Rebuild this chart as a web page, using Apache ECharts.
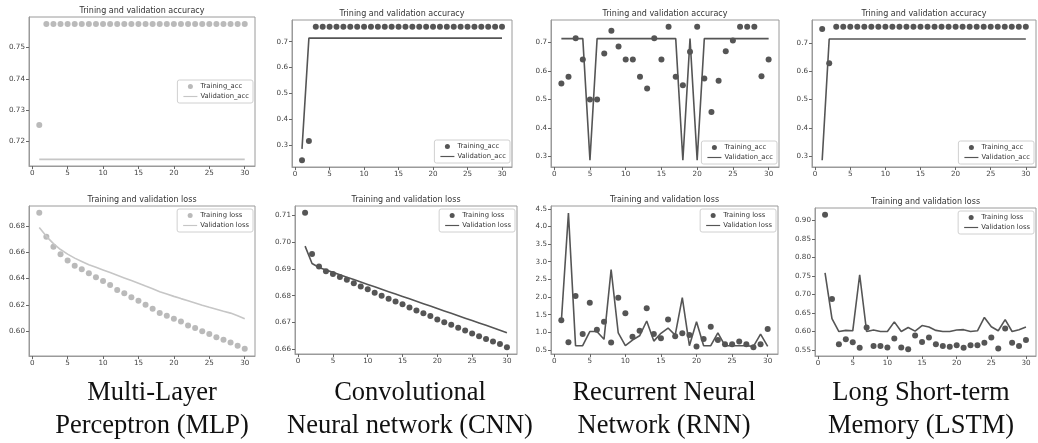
<!DOCTYPE html>
<html>
<head>
<meta charset="utf-8">
<script src="https://cdn.jsdelivr.net/npm/echarts@6/dist/echarts.min.js"></script>
<style>
  html, body { margin: 0; background: #fff; }
  #main { width: 1038px; height: 443px; }
</style>
</head>
<body>
<div id="main"></div>
<script>
  // epochs on the x axis
  var epochs = [1,2,3,4,5,6,7,8,9,10,11,12,13,14,15,16,17,18,19,20,21,22,23,24,25,26,27,28,29,30];
  var xTicks = [0, 5, 10, 15, 20, 25, 30];

  // Multi-Layer Perceptron
  var mlpTrainAcc = [0.7253,0.7575,0.7575,0.7575,0.7575,0.7575,0.7575,0.7575,0.7575,0.7575,0.7575,0.7575,0.7575,0.7575,0.7575,0.7575,0.7575,0.7575,0.7575,0.7575,0.7575,0.7575,0.7575,0.7575,0.7575,0.7575,0.7575,0.7575,0.7575,0.7575];
  var mlpValAcc = [0.7143,0.7143,0.7143,0.7143,0.7143,0.7143,0.7143,0.7143,0.7143,0.7143,0.7143,0.7143,0.7143,0.7143,0.7143,0.7143,0.7143,0.7143,0.7143,0.7143,0.7143,0.7143,0.7143,0.7143,0.7143,0.7143,0.7143,0.7143,0.7143,0.7143];
  var mlpTrainLoss = [0.6898,0.6717,0.6642,0.6584,0.6536,0.6498,0.6470,0.6440,0.6410,0.6382,0.6352,0.6314,0.6289,0.6259,0.6231,0.6201,0.6171,0.6138,0.6118,0.6096,0.6075,0.6045,0.6025,0.6000,0.5980,0.5955,0.5937,0.5915,0.5890,0.5868];
  var mlpValLoss = [0.6787,0.6720,0.6665,0.6620,0.6585,0.6555,0.6530,0.6505,0.6485,0.6465,0.6445,0.6425,0.6405,0.6385,0.6365,0.6343,0.6322,0.6300,0.6283,0.6265,0.6248,0.6232,0.6215,0.6198,0.6182,0.6167,0.6152,0.6138,0.6118,0.6095];

  // Convolutional Neural network
  var cnnTrainAcc = [0.242,0.316,0.758,0.758,0.758,0.758,0.758,0.758,0.758,0.758,0.758,0.758,0.758,0.758,0.758,0.758,0.758,0.758,0.758,0.758,0.758,0.758,0.758,0.758,0.758,0.758,0.758,0.758,0.758,0.758];
  var cnnValAcc = [0.286,0.714,0.714,0.714,0.714,0.714,0.714,0.714,0.714,0.714,0.714,0.714,0.714,0.714,0.714,0.714,0.714,0.714,0.714,0.714,0.714,0.714,0.714,0.714,0.714,0.714,0.714,0.714,0.714,0.714];
  var cnnTrainLoss = [0.7110,0.6956,0.6909,0.6891,0.6881,0.6870,0.6859,0.6846,0.6834,0.6824,0.6811,0.6800,0.6788,0.6778,0.6768,0.6756,0.6745,0.6734,0.6724,0.6711,0.6701,0.6691,0.6680,0.6670,0.6659,0.6648,0.6638,0.6629,0.6619,0.6607];
  var cnnValLoss = [0.6985,0.6920,0.6905,0.6896,0.6887,0.6878,0.6869,0.6860,0.6851,0.6842,0.6833,0.6824,0.6815,0.6806,0.6797,0.6788,0.6779,0.6770,0.6761,0.6752,0.6743,0.6734,0.6725,0.6716,0.6707,0.6698,0.6689,0.6680,0.6671,0.6661];

  // Recurrent Neural Network
  var rnnTrainAcc = [0.556,0.580,0.715,0.641,0.500,0.500,0.662,0.742,0.686,0.641,0.641,0.580,0.539,0.715,0.641,0.756,0.580,0.550,0.668,0.756,0.574,0.456,0.566,0.670,0.707,0.756,0.756,0.756,0.582,0.641];
  var rnnValAcc = [0.714,0.714,0.714,0.714,0.286,0.714,0.714,0.714,0.714,0.714,0.714,0.714,0.714,0.714,0.714,0.714,0.714,0.286,0.714,0.286,0.714,0.714,0.714,0.714,0.714,0.714,0.714,0.714,0.714,0.714];
  var rnnTrainLoss = [1.34,0.72,2.03,0.95,1.84,1.07,1.30,0.71,1.98,1.54,0.875,1.04,1.68,0.95,0.83,1.36,0.89,0.97,0.92,0.60,0.81,1.16,0.78,0.66,0.66,0.74,0.66,0.575,0.66,1.09];
  var rnnValLoss = [1.30,4.38,0.62,0.62,1.02,1.02,0.80,2.78,0.98,0.62,0.78,0.90,1.32,0.75,0.97,1.12,0.92,1.98,0.62,1.30,0.62,0.62,0.98,0.62,0.62,0.62,0.62,0.60,0.95,0.60];

  // Long Short-term Memory
  var lstmTrainAcc = [0.7496,0.6285,0.7576,0.7576,0.7576,0.7576,0.7576,0.7576,0.7576,0.7576,0.7576,0.7576,0.7576,0.7576,0.7576,0.7576,0.7576,0.7576,0.7576,0.7576,0.7576,0.7576,0.7576,0.7576,0.7576,0.7576,0.7576,0.7576,0.7576,0.7576];
  var lstmValAcc = [0.286,0.714,0.714,0.714,0.714,0.714,0.714,0.714,0.714,0.714,0.714,0.714,0.714,0.714,0.714,0.714,0.714,0.714,0.714,0.714,0.714,0.714,0.714,0.714,0.714,0.714,0.714,0.714,0.714,0.714];
  var lstmTrainLoss = [0.915,0.688,0.566,0.579,0.571,0.556,0.611,0.561,0.561,0.557,0.581,0.557,0.552,0.589,0.572,0.584,0.566,0.561,0.559,0.563,0.556,0.563,0.563,0.570,0.584,0.554,0.608,0.570,0.561,0.577];
  var lstmValLoss = [0.758,0.635,0.600,0.603,0.602,0.753,0.600,0.604,0.600,0.600,0.626,0.600,0.611,0.601,0.616,0.612,0.603,0.600,0.600,0.604,0.605,0.600,0.602,0.638,0.613,0.602,0.632,0.600,0.605,0.612];

  var accTitle = 'Trining and validation accuracy';
  var lossTitle = 'Training and validation loss';
  var accNames = ['Training_acc', 'Validation_acc'];
  var lossNames = ['Training loss', 'Validation loss'];

  var captions = [
    { x: 152, lines: ['Multi-Layer', 'Perceptron (MLP)'] },
    { x: 410, lines: ['Convolutional', 'Neural network (CNN)'] },
    { x: 664, lines: ['Recurrent Neural', 'Network (RNN)'] },
    { x: 921, lines: ['Long Short-term', 'Memory (LSTM)'] }
  ];

  // layout of each subplot: box [left, top, width, height], y range, y ticks, legend corner
  var panels = [
    { box: [29, 17, 226, 149], y: [0.7122, 0.7597], yt: [0.72, 0.73, 0.74, 0.75], dec: 2, light: true,
      title: accTitle, names: accNames, t: mlpTrainAcc, v: mlpValAcc, leg: { right: 1038 - 253, top: 80 } },
    { box: [292, 20, 220, 147], y: [0.216, 0.784], yt: [0.3, 0.4, 0.5, 0.6, 0.7], dec: 1,
      title: accTitle, names: accNames, t: cnnTrainAcc, v: cnnValAcc, leg: { right: 1038 - 510, top: 140 } },
    { box: [551, 20, 228, 147], y: [0.2625, 0.7795], yt: [0.3, 0.4, 0.5, 0.6, 0.7], dec: 1,
      title: accTitle, names: accNames, t: rnnTrainAcc, v: rnnValAcc, leg: { right: 1038 - 777, top: 141 } },
    { box: [812, 20, 224, 147], y: [0.2621, 0.7812], yt: [0.3, 0.4, 0.5, 0.6, 0.7], dec: 1,
      title: accTitle, names: accNames, t: lstmTrainAcc, v: lstmValAcc, leg: { right: 1038 - 1034, top: 141 } },
    { box: [29, 206, 226, 150], y: [0.5813, 0.6950], yt: [0.60, 0.62, 0.64, 0.66, 0.68], dec: 2, light: true,
      title: lossTitle, names: lossNames, t: mlpTrainLoss, v: mlpValLoss, leg: { right: 1038 - 253, top: 209 } },
    { box: [295, 206, 222, 148], y: [0.6582, 0.7135], yt: [0.66, 0.67, 0.68, 0.69, 0.70, 0.71], dec: 2,
      title: lossTitle, names: lossNames, t: cnnTrainLoss, v: cnnValLoss, leg: { right: 1038 - 515, top: 209 } },
    { box: [551, 206, 227, 148], y: [0.384, 4.58], yt: [0.5, 1.0, 1.5, 2.0, 2.5, 3.0, 3.5, 4.0, 4.5], dec: 1,
      title: lossTitle, names: lossNames, t: rnnTrainLoss, v: rnnValLoss, leg: { right: 1038 - 776, top: 209 } },
    { box: [815, 208, 221, 148], y: [0.534, 0.933], yt: [0.55, 0.60, 0.65, 0.70, 0.75, 0.80, 0.85, 0.90], dec: 2,
      title: lossTitle, names: lossNames, t: lstmTrainLoss, v: lstmValLoss, leg: { right: 1038 - 1034, top: 211 } }
  ];

  var font = 'DejaVu Sans';
  var lineIcon = 'path://M0,0 L24,0 L24,2 L0,2 Z';
  var option = { animation: false, grid: [], xAxis: [], yAxis: [], series: [], legend: [], graphic: [] };
  var labelOf = {};

  panels.forEach(function (p, i) {
    var dotColor = p.light ? '#a9a9a9' : '#2a2a2a';
    var lineColor = p.light ? '#c6c6c6' : '#555555';
    option.grid.push({
      left: p.box[0], top: p.box[1], width: p.box[2], height: p.box[3],
      show: true, borderColor: '#9a9a9a', borderWidth: 1
    });
    option.xAxis.push({
      type: 'value', gridIndex: i, min: -0.45, max: 31.45,
      axisLine: { show: true, onZero: false, lineStyle: { color: '#9a9a9a' } },
      axisTick: { show: true, length: 3, customValues: xTicks, lineStyle: { color: '#666' } },
      axisLabel: { customValues: xTicks, fontSize: 7.2, fontFamily: font, color: '#444', margin: 4 },
      splitLine: { show: false }
    });
    option.yAxis.push({
      type: 'value', gridIndex: i, min: p.y[0], max: p.y[1],
      axisLine: { show: true, onZero: false, lineStyle: { color: '#9a9a9a' } },
      axisTick: { show: true, length: 3, customValues: p.yt, lineStyle: { color: '#666' } },
      axisLabel: {
        customValues: p.yt, fontSize: 7.2, fontFamily: font, color: '#444', margin: 4,
        formatter: (function (d) { return function (v) { return Number(v).toFixed(d); }; })(p.dec)
      },
      splitLine: { show: false }
    });
    var tName = 'p' + i + 't', vName = 'p' + i + 'v';
    labelOf[tName] = p.names[0];
    labelOf[vName] = p.names[1];
    option.series.push({
      name: vName, type: 'line', xAxisIndex: i, yAxisIndex: i,
      data: epochs.map(function (e, k) { return [e, p.v[k]]; }),
      showSymbol: false, symbol: 'none',
      lineStyle: { color: lineColor, width: 1.6 }, itemStyle: { color: lineColor }
    });
    option.series.push({
      name: tName, type: 'scatter', xAxisIndex: i, yAxisIndex: i,
      data: epochs.map(function (e, k) { return [e, p.t[k]]; }),
      symbolSize: 6, itemStyle: { color: dotColor }
    });
    option.legend.push({
      orient: 'vertical', right: p.leg.right, top: p.leg.top,
      data: [
        { name: tName, icon: 'circle', itemStyle: { color: dotColor } },
        { name: vName, icon: lineIcon, itemStyle: { color: lineColor } }
      ],
      itemWidth: 14, itemHeight: 5, itemGap: 3, padding: [3, 4, 3, 6],
      borderColor: '#d0d0d0', borderWidth: 1, borderRadius: 2, backgroundColor: '#fff',
      textStyle: { fontSize: 6.8, fontFamily: font, color: '#333', padding: [0, 0, 0, -2] },
      formatter: function (n) { return labelOf[n]; },
      selectedMode: false
    });
    option.graphic.push({
      type: 'text', x: p.box[0] + p.box[2] / 2, y: p.box[1] - 6,
      style: { text: p.title, fontSize: 8, fontFamily: font, fill: '#333', align: 'center', verticalAlign: 'middle' }
    });
  });

  captions.forEach(function (c) {
    c.lines.forEach(function (t, j) {
      option.graphic.push({
        type: 'text', x: c.x, y: 393 + j * 33,
        style: { text: t, fontSize: 26.5, fontFamily: 'Liberation Serif', fill: '#111', align: 'center', verticalAlign: 'middle' }
      });
    });
  });

  var myChart = echarts.init(document.getElementById('main'));
  myChart.setOption(option);
</script>
</body>
</html>
